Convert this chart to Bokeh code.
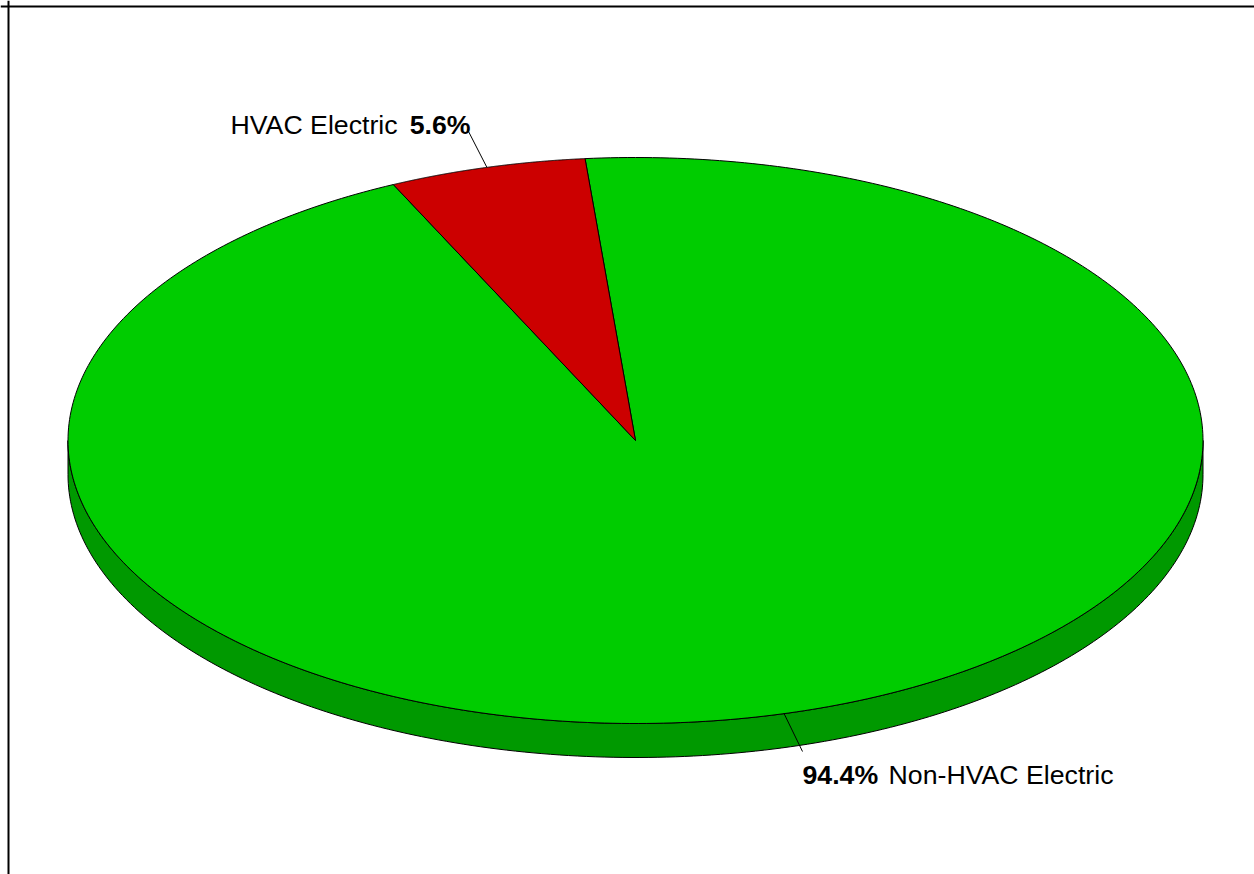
import numpy as np
from bokeh.plotting import figure
from bokeh.models import Range1d, Span
from bokeh.core.properties import value
from bokeh.embed import file_html
from bokeh.resources import INLINE

# ---- data ----
categories = ["Non-HVAC Electric", "HVAC Electric"]
values = [94.4, 5.6]
top_colors = ["#00CC00", "#CC0000"]
side_colors = ["#009900", "#990000"]

# ---- layout (screen-pixel coordinates) ----
W, H = 1254, 874
CX, CY = 635.0, 440.0     # pie centre
A, B = 567.5, 283.0       # ellipse semi-axes
DEPTH = 34.0              # 3-D thickness
START = 95.1              # start angle (deg), slices run clockwise

p = figure(width=W, height=H, output_backend="svg", toolbar_location=None,
           x_range=Range1d(0, W), y_range=Range1d(H, 0),
           min_border=0, outline_line_color=None)
p.axis.visible = False
p.grid.visible = False
p.background_fill_color = "white"


def ell(t_deg, dy=0.0):
    t = np.radians(t_deg)
    return CX + A * np.cos(t), CY - B * np.sin(t) + dy


total = float(sum(values))
angles = []
a0 = START
for v in values:
    sweep = 360.0 * v / total
    angles.append((a0, a0 - sweep))
    a0 -= sweep

# side band (front half of pie)
side_xs, side_ys, side_cols = [], [], []
for (s, e), col in zip(angles, side_colors):
    lo, hi = min(s, e), max(s, e)
    for off in (-360, 0, 360):
        l2, h2 = max(lo + off, 180), min(hi + off, 360)
        if h2 > l2:
            t = np.linspace(l2, h2, 200)
            x1, y1 = ell(t)
            x2, y2 = ell(t[::-1], DEPTH)
            side_xs.append(list(np.concatenate([x1, x2])))
            side_ys.append(list(np.concatenate([y1, y2])))
            side_cols.append(col)
p.patches(xs=side_xs, ys=side_ys, fill_color=side_cols, line_color="black", line_width=1)

# top face
top_xs, top_ys = [], []
for s, e in angles:
    t = np.linspace(s, e, 400)
    x, y = ell(t)
    top_xs.append([CX] + list(x))
    top_ys.append([CY] + list(y))
p.patches(xs=top_xs, ys=top_ys, fill_color=top_colors, line_color="black", line_width=1)

# labels with leader lines
mids = [(s + e) / 2.0 for s, e in angles]
font = value("Liberation Sans")
fs = "26.7px"

# Non-HVAC (label below-right)
mx, my = ell(mids[0])
p.segment(x0=[mx], y0=[my], x1=[802], y1=[751], line_color="black", line_width=1)
p.text(x=[802], y=[774], text=[f"{values[0]:.1f}%"], text_font=font, text_font_size=fs,
       text_font_style="bold", text_align="left", text_baseline="alphabetic", text_color="black")
p.text(x=[1113], y=[774], text=[categories[0]], text_font=font, text_font_size=fs,
       text_align="right", text_baseline="alphabetic", text_color="black")

# HVAC (label above-left)
mx, my = ell(mids[1])
p.segment(x0=[mx], y0=[my], x1=[467], y1=[129], line_color="black", line_width=1)
p.text(x=[230], y=[124], text=[categories[1]], text_font=font, text_font_size=fs,
       text_align="left", text_baseline="alphabetic", text_color="black")
p.text(x=[470], y=[124], text=[f"{values[1]:.1f}%"], text_font=font, text_font_size=fs,
       text_font_style="bold", text_align="right", text_baseline="alphabetic", text_color="black")

# chart-area border (top and left visible)
p.add_layout(Span(location=6, dimension="width", line_color="black", line_width=2))
p.add_layout(Span(location=8, dimension="height", line_color="black", line_width=2))

open("out.html", "w").write(file_html(p, INLINE))
